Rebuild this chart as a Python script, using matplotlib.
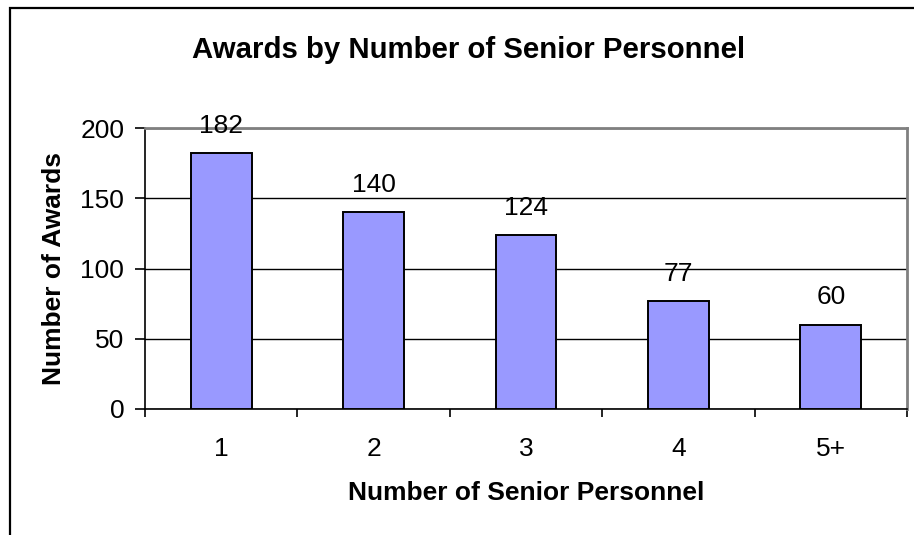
import matplotlib.pyplot as plt
from matplotlib.patches import Rectangle

# data
categories = ["1", "2", "3", "4", "5+"]
awards = [182, 140, 124, 77, 60]
y_ticks = [0, 50, 100, 150, 200]

plt.rcParams['font.family'] = ['Liberation Sans', 'DejaVu Sans']

fig = plt.figure(figsize=(9.14, 5.35), dpi=100)
ax = fig.add_axes([145 / 914, 1 - 409 / 535, (907 - 145) / 914, (409 - 128) / 535])

x = range(len(categories))
bars = ax.bar(x, awards, width=0.4, color="#9999FF", edgecolor="black", linewidth=1.4, zorder=3)
ax.bar_label(bars, labels=[str(v) for v in awards], padding=11, fontsize=19)

ax.set_xlim(-0.5, len(categories) - 0.5)
ax.set_ylim(0, 200)
ax.set_yticks(y_ticks)
ax.set_xticks(list(x))
ax.set_xticklabels(categories)
ax.set_xticks([i + 0.5 for i in range(-1, len(categories))], minor=True)
ax.tick_params(axis="x", which="major", length=0, pad=20, labelsize=19)
ax.tick_params(axis="x", which="minor", length=6, width=1.2, direction="out")
ax.tick_params(axis="y", length=7, width=1.2, pad=8, labelsize=19)

ax.yaxis.grid(True, color="black", linewidth=1.0, zorder=0)
ax.set_axisbelow(True)

for s in ["top", "right"]:
    ax.spines[s].set_color("#808080")
    ax.spines[s].set_linewidth(2)
for s in ["left", "bottom"]:
    ax.spines[s].set_color("black")
    ax.spines[s].set_linewidth(1.2)

ax.set_xlabel("Number of Senior Personnel", fontsize=19, fontweight="bold", va="center")
ax.xaxis.set_label_coords(0.5, -(493 - 409) / 281)
ax.set_ylabel("Number of Awards", fontsize=19, fontweight="bold", va="center")
ax.yaxis.set_label_coords(-(145 - 54) / 762, 0.5)

fig.text(469 / 914, 1 - 50 / 535, "Awards by Number of Senior Personnel",
         ha="center", va="center", fontsize=21.2, fontweight="bold")

# chart area border (runs off the right and bottom edges)
fig.patches.append(Rectangle((9.5 / 914, -0.05), 1.1, 1 - 7.5 / 535 + 0.05,
                             transform=fig.transFigure, fill=False,
                             edgecolor="black", linewidth=1.6))

fig.savefig("out.png", dpi=100)
